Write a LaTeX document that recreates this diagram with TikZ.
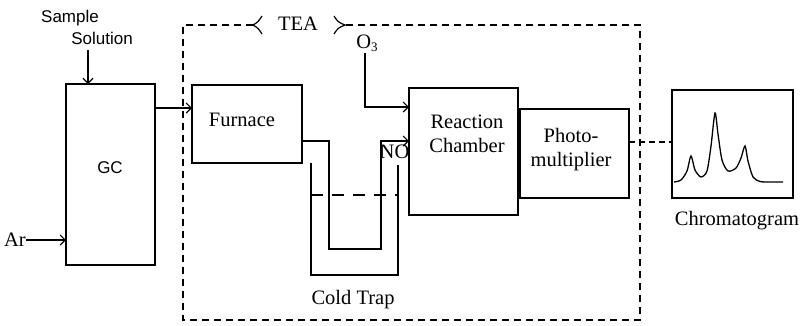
\documentclass[tikz,border=0pt]{standalone}
\usepackage{fontspec}
\setmainfont{Liberation Serif}
\setsansfont{Liberation Sans}
\usetikzlibrary{arrows.meta,calc}
\begin{document}
\begin{tikzpicture}[x=1pt,y=-1pt,
  line width=1.2pt,
  box/.style={draw,inner sep=0pt,outer sep=0pt},
  txt/.style={inner sep=0pt,font=\fontsize{20.5}{24}\selectfont,align=center},
  stxt/.style={inner sep=0pt,font=\sffamily\fontsize{17}{20}\selectfont},
  arr/.style={-{Straight Barb[length=5pt,width=10pt,line width=1.1pt]}},
  teadash/.style={dash pattern=on 7pt off 5pt},
  leveldash/.style={dash pattern=on 12pt off 9pt},
  sigdash/.style={dash pattern=on 6pt off 4pt}]
\useasboundingbox (0,0) rectangle (801,325);

% boxes
\node[box,minimum width=89pt,minimum height=181pt] (gc) at (110.5,174.5) {};
\node[box,minimum width=110pt,minimum height=78pt] (furnace) at (247,124) {};
\node[box,minimum width=109pt,minimum height=127pt] (rc) at (463.5,151.5) {};
\node[box,minimum width=109pt,minimum height=89pt] (pm) at (574.5,153.5) {};
\node[box,minimum width=121pt,minimum height=108pt] (chrom) at (732.5,144) {};

% texts
\node[stxt] (gctxt) at (110,168) {GC};
\node[txt] (furnacetxt) at (242,120) {Furnace};
\node[txt] (rctxt) at (467,134) {Reaction\\Chamber};
\node[txt] (pmtxt) at (571,150) {Photo-\\multiplier};
\node[txt] (chromtxt) at (737,221) {Chromatogram};
\node[stxt] (sample) at (70,18) {Sample};
\node[stxt] (solution) at (102,38) {Solution};
\node[txt] (ar) at (15,240) {Ar};
\node[txt] (o3) at (367,43) {O\raisebox{-0.35ex}{\fontsize{13}{13}\selectfont 3}};
\node[txt] (no) at (394.5,152) {NO};
\node[txt] (cold) at (353,300) {Cold Trap};
\node[txt] (tea) at (298,24) {TEA};

% inputs to GC
\coordinate (ssin) at (88,50);
\draw[arr] (ssin) -- (ssin |- gc.north);
\draw[arr] (ar.east) -- (ar.east -| gc.west);

% GC -> Furnace
\draw[arr] ($(gc.north east)+(0,24)$) -- ($(furnace.north west)+(0,23)$);

% O3 -> reaction chamber
\coordinate (o3in) at (365,53);
\draw[arr] (o3in) |- ($(rc.north west)+(0,19)$);

% furnace -> cold trap tube -> reaction chamber
\draw[arr] ($(furnace.north east)+(0,56)$) -- (329,141) -- (329,249) -- (381,249) -- (381,141)
  -- ($(rc.north west)+(0,53)$);

% cold trap vessel
\draw (311,163) -- (311,275) -- (398,275) -- (398,165);
\draw[leveldash] (311,195) -- (398,195);

% TEA dashed enclosure
\draw[teadash] (253,25) -- (183,25) -- (183,320) -- (640,320) -- (640,25) -- (345,25);
\draw (262,16) .. controls (258,22) .. (253,25) .. controls (258,28) .. (262,34);
\draw (334,16) .. controls (338,22) .. (345,25) .. controls (338,28) .. (334,34);

% photomultiplier -> chromatogram
\draw[sigdash] ($(pm.north east)+(0,33)$) -- ($(chrom.north west)+(0,52)$);

% chromatogram trace
\draw[line width=1.3pt] plot[smooth,tension=0.45] coordinates {
 (674,182) (681,180) (687,171) (691,156) (695,170) (701,177) (707,171)
 (711,146) (715,113) (718,134) (722,160) (728,171) (736,168) (741,158)
 (745,146) (748,161) (753,177) (760,181.5) (770,182) (783,182)};
\end{tikzpicture}
\end{document}
